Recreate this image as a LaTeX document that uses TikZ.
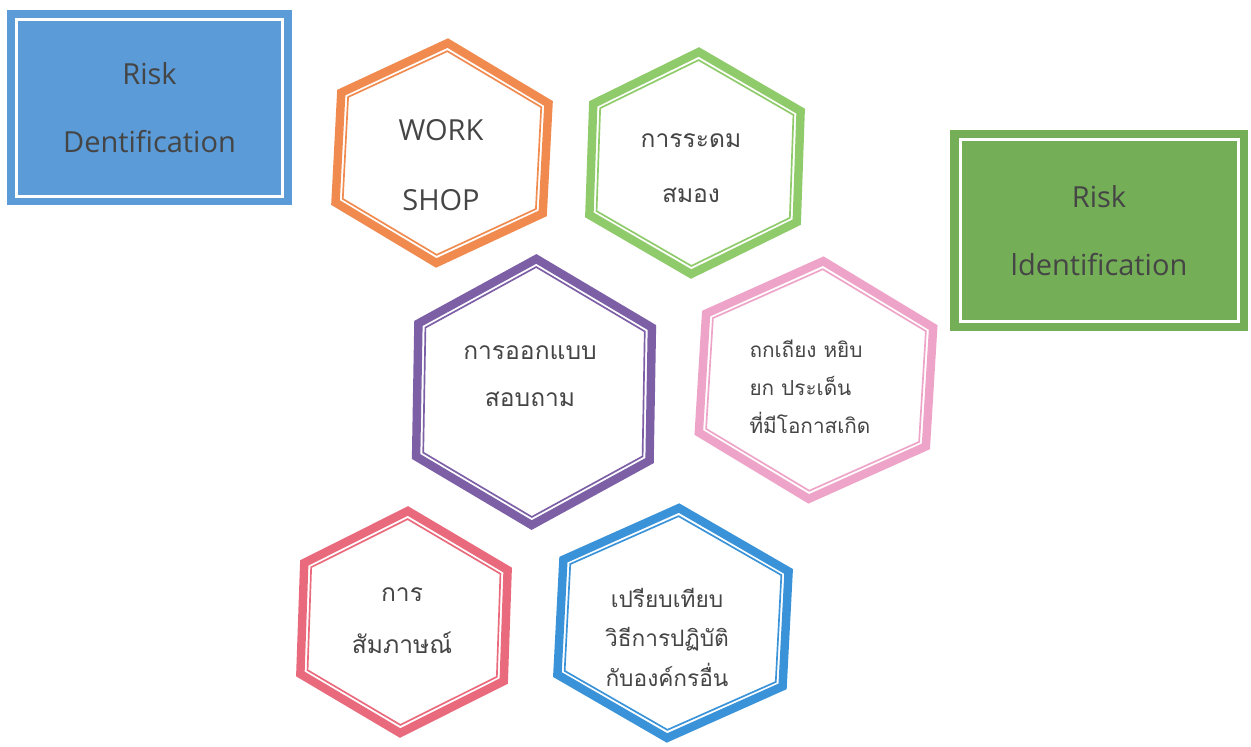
\documentclass[tikz,border=0pt]{standalone}
\usepackage{fontspec}
\setmainfont{Open Sans}
\newfontfamily\thaifont[Script=Thai]{Loma}
\usetikzlibrary{calc}
\definecolor{txtgray}{HTML}{454545}
\definecolor{boxblue}{HTML}{5A9BD8}
\definecolor{boxgreen}{HTML}{74AE57}
\definecolor{hexorange}{HTML}{F08A4E}
\definecolor{hexgreen}{HTML}{8FCB6B}
\definecolor{hexpurple}{HTML}{7D5FA6}
\definecolor{hexpink}{HTML}{EEA4C8}
\definecolor{hexred}{HTML}{E96A7C}
\definecolor{hexblue}{HTML}{3A93D8}
\newcommand\hexframe[2]{(0,{-(#2)}) -- ({#1},{-(#2)/2}) -- ({#1},{(#2)/2}) -- (0,{#2}) -- ({-(#1)},{(#2)/2}) -- ({-(#1)},{-(#2)/2}) -- cycle}
\tikzset{
  hexband/.style={line width=4.8pt, line join=miter},
  hexline/.style={line width=0.95pt, line join=miter},
  thaitext/.style={text=txtgray, align=center, font=\thaifont\fontsize{14}{#1}\selectfont},
  risktext/.style={text=txtgray, align=center, font=\fontsize{16.5}{38.6}\selectfont},
  riskbox/.style={risktext, inner sep=0pt, minimum width=#1}
}
\begin{document}
\begin{tikzpicture}[x=0.02cm, y=-0.02cm]
\useasboundingbox (0,0) rectangle (1251,747);
\fill[white] (0,0) rectangle (1251,747);
% the two boxes
\node[riskbox=5.7cm, minimum height=3.9cm, fill=boxblue] (riskD) at (149.5,107.5) {Risk\\Dentification};
\draw[white, line width=1.7pt] ($(riskD.north west)+(9.5,10)$) rectangle ($(riskD.south east)+(-9.5,-9)$);
\node[riskbox=5.96cm, minimum height=4.02cm, fill=boxgreen] (riskI) at (1099,230.5) {Risk\\ldentification};
\draw[white, line width=1.7pt] ($(riskI.north west)+(10.5,10)$) rectangle ($(riskI.south east)+(-10,-10)$);
% hexagon frames
\foreach \x/\y/\w/\h/\r/\c in {442/153/108/115/3/hexorange, 695/163/108/116/2/hexgreen,
    534/392/121/138/1/hexpurple, 816/380/118/124/3.5/hexpink,
    404/622/106/116/2/hexred, 673/623/117/120/3/hexblue}{
  \begin{scope}[shift={(\x,\y)}, rotate=-\r, draw=\c]
    \draw[hexband] \hexframe{\w-4.25}{\h-4.9};
    \draw[hexline] \hexframe{\w-11.3}{\h-13};
  \end{scope}
}
% texts
\node[risktext, font=\fontsize{16.5}{39.7}\selectfont] (work) at (441,165) {WORK\\SHOP};
\node[thaitext=31pt] (brain) at (691,168) {การระดม\\สมอง};
\node[thaitext=27pt] (survey) at (530,376) {การออกแบบ\\สอบถาม};
\node[thaitext, font=\thaifont\fontsize{11.8}{21.5}\selectfont, align=left] (debate) at (810,387) {ถกเถียง หยิบ\\ยก ประเด็น\\ที่มีโอกาสเกิด};
\node[thaitext=29.5pt] (interview) at (402,621) {การ\\สัมภาษณ์};
\node[thaitext, font=\thaifont\fontsize{12.9}{22.5}\selectfont] (bench) at (667,637) {เปรียบเทียบ\\วิธีการปฏิบัติ\\กับองค์กรอื่น};
\end{tikzpicture}
\end{document}
